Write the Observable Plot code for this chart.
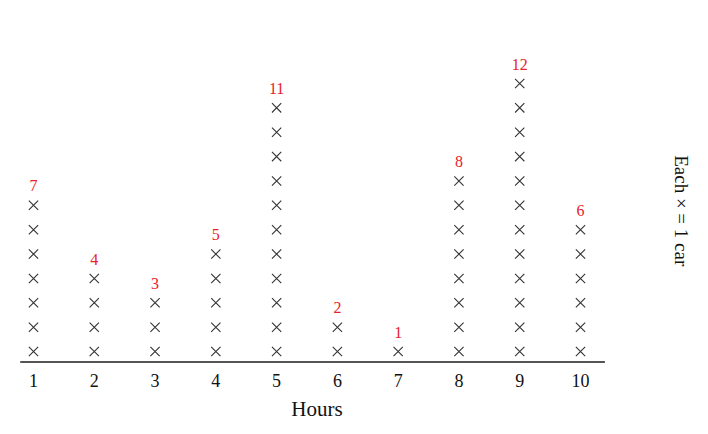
<!DOCTYPE html>
<html>
<head>
<meta charset="utf-8">
<script src="https://cdn.jsdelivr.net/npm/d3@7"></script>
<script src="https://cdn.jsdelivr.net/npm/@observablehq/plot@0.6"></script>
<style>
  html, body { margin: 0; padding: 0; background: #fff; }
  #chart svg { display: block; }
</style>
</head>
<body>
<div id="chart"></div>
<script>
const hours = [1, 2, 3, 4, 5, 6, 7, 8, 9, 10];
const counts = [7, 4, 3, 5, 11, 2, 1, 8, 12, 6];
const xLabel = "Hours";
const keyLabel = "Each × = 1 car";

const marks = [];
hours.forEach((h, i) => {
  for (let k = 1; k <= counts[i]; k++) marks.push({hour: h, k});
});
const tops = hours.map((h, i) => ({hour: h, count: counts[i]}));

const font = "'Liberation Serif', 'Times New Roman', serif";

const chart = Plot.plot({
  width: 708,
  height: 434,
  marginLeft: 33,
  marginRight: 128,
  marginTop: 83,
  marginBottom: 58.6,
  style: {fontFamily: font, background: "#fff"},
  x: {type: "linear", domain: [1, 10], axis: null},
  y: {domain: [0, 12], axis: null},
  marks: [
    Plot.ruleY([0], {x1: 0.79, x2: 10.41, dy: -14, stroke: "#555", strokeWidth: 2}),
    Plot.dot(marks, {x: "hour", y: "k", symbol: "times", r: 4.3, stroke: "#333", strokeWidth: 1.1}),
    Plot.text(tops, {x: "hour", y: "count", text: d => String(d.count), dy: -19, fontSize: 16, fill: "#e8212a", lineAnchor: "middle"}),
    Plot.text(hours, {x: d => d, frameAnchor: "bottom", dy: 5, text: d => String(d), fontSize: 18, fill: "#111", lineAnchor: "middle"}),
    Plot.text([xLabel], {frameAnchor: "bottom", dx: 10, dy: 33, text: d => d, fontSize: 21, fill: "#111", lineAnchor: "middle"}),
    Plot.text([keyLabel], {frameAnchor: "right", dx: 101, dy: -19, rotate: 90, text: d => d, fontSize: 19, fill: "#111", textAnchor: "middle", lineAnchor: "middle"})
  ]
});
document.getElementById("chart").appendChild(chart);
</script>
</body>
</html>
